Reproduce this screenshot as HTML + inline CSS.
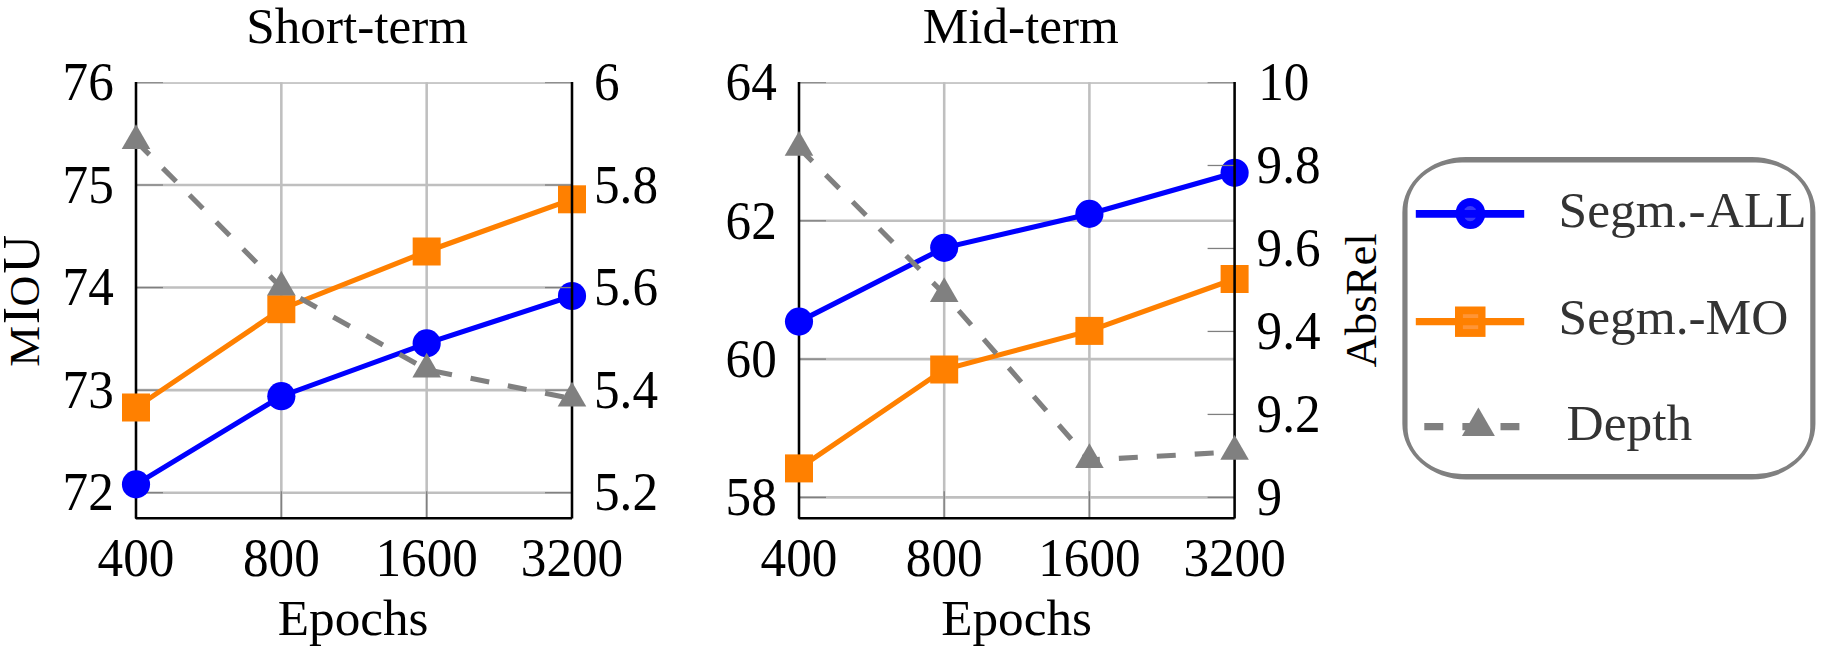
<!DOCTYPE html>
<html><head><meta charset="utf-8"><title>chart</title>
<style>
html,body{margin:0;padding:0;background:#fff;}
body{width:1825px;height:653px;overflow:hidden;}
svg{display:block;}
svg{font-family:"Liberation Serif",serif;font-size:51.2px;fill:#000;}
</style></head>
<body>
<svg width="1825" height="653" viewBox="0 0 1825 653">
<rect width="1825" height="653" fill="#fff"/>
<line x1="281.33" y1="82.2" x2="281.33" y2="518.2" stroke="#bfbfbf" stroke-width="2.56"/>
<line x1="426.67" y1="82.2" x2="426.67" y2="518.2" stroke="#bfbfbf" stroke-width="2.56"/>
<rect x="136" y="82.2" width="436" height="1.65" fill="#bfbfbf"/>
<line x1="136" y1="185.01" x2="572" y2="185.01" stroke="#bfbfbf" stroke-width="2.56"/>
<line x1="136" y1="287.57" x2="572" y2="287.57" stroke="#bfbfbf" stroke-width="2.56"/>
<line x1="136" y1="390.13" x2="572" y2="390.13" stroke="#bfbfbf" stroke-width="2.56"/>
<line x1="136" y1="492.69" x2="572" y2="492.69" stroke="#bfbfbf" stroke-width="2.56"/>
<rect x="136" y="82.2" width="27" height="0.95" fill="#7f7f7f"/>
<line x1="136" y1="185.01" x2="163" y2="185.01" stroke="#7f7f7f" stroke-width="1.28"/>
<line x1="136" y1="287.57" x2="163" y2="287.57" stroke="#7f7f7f" stroke-width="1.28"/>
<line x1="136" y1="390.13" x2="163" y2="390.13" stroke="#7f7f7f" stroke-width="1.28"/>
<line x1="136" y1="492.69" x2="163" y2="492.69" stroke="#7f7f7f" stroke-width="1.28"/>
<line x1="281.33" y1="518.2" x2="281.33" y2="491.2" stroke="#7f7f7f" stroke-width="1.28"/>
<line x1="426.67" y1="518.2" x2="426.67" y2="491.2" stroke="#7f7f7f" stroke-width="1.28"/>
<polyline points="136,81.89999999999999 136,518.2 572,518.2" fill="none" stroke="#000" stroke-width="2.56" stroke-linejoin="bevel"/>
<polyline points="136.00,484.40 281.33,396.20 426.67,343.40 572.00,296.00" fill="none" stroke="#0000ff" stroke-width="5.12"/>
<circle cx="136.00" cy="484.40" r="14.08" fill="#0000ff"/>
<circle cx="281.33" cy="396.20" r="14.08" fill="#0000ff"/>
<circle cx="426.67" cy="343.40" r="14.08" fill="#0000ff"/>
<circle cx="572.00" cy="296.00" r="14.08" fill="#0000ff"/>
<polyline points="136.00,407.50 281.33,309.20 426.67,251.50 572.00,199.30" fill="none" stroke="#ff8000" stroke-width="5.12"/>
<rect x="122.00" y="393.50" width="28.00" height="28.00" fill="#ff8000"/>
<rect x="267.33" y="295.20" width="28.00" height="28.00" fill="#ff8000"/>
<rect x="412.67" y="237.50" width="28.00" height="28.00" fill="#ff8000"/>
<rect x="558.00" y="185.30" width="28.00" height="28.00" fill="#ff8000"/>
<rect x="545" y="82.2" width="27" height="0.95" fill="#7f7f7f"/>
<line x1="572" y1="185.01" x2="545" y2="185.01" stroke="#7f7f7f" stroke-width="1.28"/>
<line x1="572" y1="287.57" x2="545" y2="287.57" stroke="#7f7f7f" stroke-width="1.28"/>
<line x1="572" y1="390.13" x2="545" y2="390.13" stroke="#7f7f7f" stroke-width="1.28"/>
<line x1="572" y1="492.69" x2="545" y2="492.69" stroke="#7f7f7f" stroke-width="1.28"/>
<line x1="572" y1="82.0" x2="572" y2="518.6" stroke="#000" stroke-width="2.56"/>
<polyline points="136.00,141.10 281.33,287.60 426.67,369.60 572.00,398.60" fill="none" stroke="#808080" stroke-width="5.12" stroke-dasharray="19.0 19.0"/>
<polygon points="136.00,124.25 150.29,149.00 121.71,149.00" fill="#808080"/>
<polygon points="281.33,270.75 295.62,295.50 267.04,295.50" fill="#808080"/>
<polygon points="426.67,352.75 440.96,377.50 412.38,377.50" fill="#808080"/>
<polygon points="572.00,381.75 586.29,406.50 557.71,406.50" fill="#808080"/>
<text transform="translate(113.80,100.15) scale(1,1.06)" text-anchor="end">76</text>
<text transform="translate(113.80,202.71) scale(1,1.06)" text-anchor="end">75</text>
<text transform="translate(113.80,305.27) scale(1,1.06)" text-anchor="end">74</text>
<text transform="translate(113.80,407.83) scale(1,1.06)" text-anchor="end">73</text>
<text transform="translate(113.80,510.39) scale(1,1.06)" text-anchor="end">72</text>
<text transform="translate(594.00,100.15) scale(1,1.06)">6</text>
<text transform="translate(594.00,202.71) scale(1,1.06)">5.8</text>
<text transform="translate(594.00,305.27) scale(1,1.06)">5.6</text>
<text transform="translate(594.00,407.83) scale(1,1.06)">5.4</text>
<text transform="translate(594.00,510.39) scale(1,1.06)">5.2</text>
<text transform="translate(136.00,575.6) scale(1,1.06)" text-anchor="middle">400</text>
<text transform="translate(281.33,575.6) scale(1,1.06)" text-anchor="middle">800</text>
<text transform="translate(426.67,575.6) scale(1,1.06)" text-anchor="middle">1600</text>
<text transform="translate(572.00,575.6) scale(1,1.06)" text-anchor="middle">3200</text>
<text x="353.20" y="635" text-anchor="middle">Epochs</text>
<text x="357.20" y="42.7" text-anchor="middle">Short-term</text>
<line x1="944.20" y1="82.2" x2="944.20" y2="518.2" stroke="#bfbfbf" stroke-width="2.56"/>
<line x1="1089.40" y1="82.2" x2="1089.40" y2="518.2" stroke="#bfbfbf" stroke-width="2.56"/>
<rect x="799" y="82.2" width="435.5999999999999" height="1.65" fill="#bfbfbf"/>
<line x1="799" y1="220.80" x2="1234.6" y2="220.80" stroke="#bfbfbf" stroke-width="2.56"/>
<line x1="799" y1="359.10" x2="1234.6" y2="359.10" stroke="#bfbfbf" stroke-width="2.56"/>
<line x1="799" y1="497.40" x2="1234.6" y2="497.40" stroke="#bfbfbf" stroke-width="2.56"/>
<rect x="799" y="82.2" width="27" height="0.95" fill="#7f7f7f"/>
<line x1="799" y1="220.80" x2="826" y2="220.80" stroke="#7f7f7f" stroke-width="1.28"/>
<line x1="799" y1="359.10" x2="826" y2="359.10" stroke="#7f7f7f" stroke-width="1.28"/>
<line x1="799" y1="497.40" x2="826" y2="497.40" stroke="#7f7f7f" stroke-width="1.28"/>
<line x1="944.20" y1="518.2" x2="944.20" y2="491.2" stroke="#7f7f7f" stroke-width="1.28"/>
<line x1="1089.40" y1="518.2" x2="1089.40" y2="491.2" stroke="#7f7f7f" stroke-width="1.28"/>
<polyline points="799,81.89999999999999 799,518.2 1234.6,518.2" fill="none" stroke="#000" stroke-width="2.56" stroke-linejoin="bevel"/>
<polyline points="799.00,321.60 944.20,247.80 1089.40,213.90 1234.60,172.80" fill="none" stroke="#0000ff" stroke-width="5.12"/>
<circle cx="799.00" cy="321.60" r="14.08" fill="#0000ff"/>
<circle cx="944.20" cy="247.80" r="14.08" fill="#0000ff"/>
<circle cx="1089.40" cy="213.90" r="14.08" fill="#0000ff"/>
<circle cx="1234.60" cy="172.80" r="14.08" fill="#0000ff"/>
<polyline points="799.00,468.40 944.20,369.50 1089.40,330.90 1234.60,279.00" fill="none" stroke="#ff8000" stroke-width="5.12"/>
<rect x="785.00" y="454.40" width="28.00" height="28.00" fill="#ff8000"/>
<rect x="930.20" y="355.50" width="28.00" height="28.00" fill="#ff8000"/>
<rect x="1075.40" y="316.90" width="28.00" height="28.00" fill="#ff8000"/>
<rect x="1220.60" y="265.00" width="28.00" height="28.00" fill="#ff8000"/>
<rect x="1207.6" y="82.2" width="27" height="0.95" fill="#7f7f7f"/>
<line x1="1234.6" y1="165.48" x2="1207.6" y2="165.48" stroke="#7f7f7f" stroke-width="1.28"/>
<line x1="1234.6" y1="248.46" x2="1207.6" y2="248.46" stroke="#7f7f7f" stroke-width="1.28"/>
<line x1="1234.6" y1="331.44" x2="1207.6" y2="331.44" stroke="#7f7f7f" stroke-width="1.28"/>
<line x1="1234.6" y1="414.42" x2="1207.6" y2="414.42" stroke="#7f7f7f" stroke-width="1.28"/>
<line x1="1234.6" y1="497.40" x2="1207.6" y2="497.40" stroke="#7f7f7f" stroke-width="1.28"/>
<line x1="1234.6" y1="82.0" x2="1234.6" y2="518.6" stroke="#000" stroke-width="2.56"/>
<polyline points="799.00,147.90 944.20,294.00 1089.40,460.00 1234.60,451.90" fill="none" stroke="#808080" stroke-width="5.12" stroke-dasharray="19.0 19.0"/>
<polygon points="799.00,131.05 813.29,155.80 784.71,155.80" fill="#808080"/>
<polygon points="944.20,277.15 958.49,301.90 929.91,301.90" fill="#808080"/>
<polygon points="1089.40,443.15 1103.69,467.90 1075.11,467.90" fill="#808080"/>
<polygon points="1234.60,435.05 1248.89,459.80 1220.31,459.80" fill="#808080"/>
<text transform="translate(776.80,100.20) scale(1,1.06)" text-anchor="end">64</text>
<text transform="translate(776.80,238.50) scale(1,1.06)" text-anchor="end">62</text>
<text transform="translate(776.80,376.80) scale(1,1.06)" text-anchor="end">60</text>
<text transform="translate(776.80,515.10) scale(1,1.06)" text-anchor="end">58</text>
<text transform="translate(1258.20,100.20) scale(1,1.06)">10</text>
<text transform="translate(1256.60,183.18) scale(1,1.06)">9.8</text>
<text transform="translate(1256.60,266.16) scale(1,1.06)">9.6</text>
<text transform="translate(1256.60,349.14) scale(1,1.06)">9.4</text>
<text transform="translate(1256.60,432.12) scale(1,1.06)">9.2</text>
<text transform="translate(1256.60,515.10) scale(1,1.06)">9</text>
<text transform="translate(799.00,575.6) scale(1,1.06)" text-anchor="middle">400</text>
<text transform="translate(944.20,575.6) scale(1,1.06)" text-anchor="middle">800</text>
<text transform="translate(1089.40,575.6) scale(1,1.06)" text-anchor="middle">1600</text>
<text transform="translate(1234.60,575.6) scale(1,1.06)" text-anchor="middle">3200</text>
<text x="1016.60" y="635" text-anchor="middle">Epochs</text>
<text x="1020.80" y="42.7" text-anchor="middle">Mid-term</text>
<g transform="translate(38.7,365) rotate(-90)" text-anchor="middle"><text transform="translate(18.6,0) scale(1.08,1)" style="font-size:42.5px">M</text><text x="49.45" y="0" style="font-size:52.4px">I</text><text x="73.95" y="0" style="font-size:42.5px">O</text><text transform="translate(110.7,0) scale(1.03,1)" style="font-size:52.4px">U</text></g>
<text transform="translate(1376,300.4) rotate(-90)" text-anchor="middle" style="font-size:44.8px">AbsRel</text>

<path fill-rule="evenodd" fill="#808080" d="M1465.95,157.00 H1751.85 A63.6,55.6 0 0 1 1815.45,212.60 V423.80 A63.6,55.6 0 0 1 1751.85,479.40 H1465.95 A63.6,55.6 0 0 1 1402.35,423.80 V212.60 A63.6,55.6 0 0 1 1465.95,157.00 Z M1462.05,162.50 H1755.75 A54.5,46.5 0 0 1 1810.25,209.00 V427.40 A54.5,46.5 0 0 1 1755.75,473.90 H1462.05 A54.5,46.5 0 0 1 1407.55,427.40 V209.00 A54.5,46.5 0 0 1 1462.05,162.50 Z"/>
<ellipse cx="1470.4" cy="213.5" rx="14.85" ry="15.4" fill="#0000ff"/>
<ellipse cx="1470.2" cy="213.6" rx="6.8" ry="7.6" fill="#3a3af8"/>
<line x1="1415.8" y1="213.8" x2="1524.2" y2="213.8" stroke="#0000ff" stroke-width="7.7"/>
<rect x="1455" y="306.5" width="30.5" height="30.4" fill="#ff8000"/>
<rect x="1462.9" y="314.2" width="15.3" height="14.9" fill="#ff9536"/>
<line x1="1415.8" y1="321.6" x2="1524.2" y2="321.6" stroke="#ff8000" stroke-width="7.4"/>
<line x1="1424.3" y1="426.7" x2="1519.4" y2="426.7" stroke="#808080" stroke-width="7.3" stroke-dasharray="19 19.1"/>
<polygon points="1478.4,407.6 1494.9,435.9 1461.9,435.9" fill="#808080"/>
<g fill="#333333" style="font-size:51.4px">
<text x="1558.6" y="227">Segm.-<tspan dx="1.2">ALL</tspan></text>
<text x="1558.6" y="334">Segm.-MO</text>
<text x="1566.6" y="440">Depth</text>
</g>

</svg>
</body></html>
